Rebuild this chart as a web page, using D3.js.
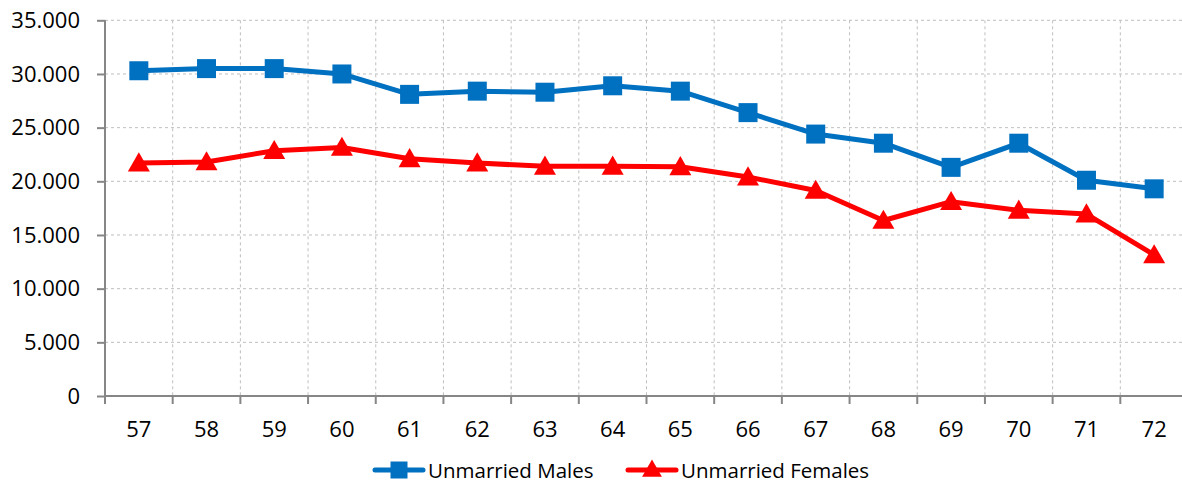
<!DOCTYPE html>
<html>
<head>
<meta charset="utf-8">
<script src="https://cdn.jsdelivr.net/npm/d3@7"></script>
<style>
  html, body { margin: 0; padding: 0; background: #fff; }
  svg { display: block; }
  text { font-family: "Open Sans", sans-serif; fill: #000; }
</style>
</head>
<body>
<svg id="chart" width="1182" height="484"></svg>
<script>
const years = ["57", "58", "59", "60", "61", "62", "63", "64", "65", "66", "67", "68", "69", "70", "71", "72"];
const males = [30300, 30500, 30500, 30000, 28100, 28400, 28300, 28900, 28400, 26400, 24400, 23550, 21300, 23550, 20100, 19300];
const females = [21700, 21800, 22850, 23150, 22100, 21700, 21400, 21400, 21350, 20400, 19150, 16350, 18100, 17300, 16950, 13150];
const yTicks = [0, 5000, 10000, 15000, 20000, 25000, 30000, 35000];
const seriesNames = ["Unmarried Males", "Unmarried Females"];
const seriesColors = ["#0070C0", "#FF0000"];

const svg = d3.select("#chart");
const plotLeft = 105, plotRight = 1188, plotTop = 20.3, plotBottom = 396;

const x = d3.scaleBand().domain(years).range([plotLeft, plotRight]).padding(0);
const y = d3.scaleLinear().domain([0, 35000]).range([plotBottom, plotTop]);

const fmt = d3.formatLocale({ decimal: ",", thousands: ".", grouping: [3], currency: ["", ""] }).format(",d");

// grid
const grid = svg.append("g").attr("stroke", "#bfbfbf").attr("stroke-width", 1).attr("stroke-dasharray", "3,3");
grid.selectAll(".hg")
    .data(yTicks.filter(d => d > 0))
    .join("line")
    .attr("x1", plotLeft).attr("x2", plotRight)
    .attr("y1", d => y(d)).attr("y2", d => y(d));
grid.selectAll(".vg")
    .data(years.slice(1))
    .join("line")
    .attr("x1", d => x(d)).attr("x2", d => x(d))
    .attr("y1", plotTop).attr("y2", plotBottom);

// y axis
const yAxis = svg.append("g")
    .attr("transform", `translate(${plotLeft},0)`)
    .call(d3.axisLeft(y).tickValues(yTicks).tickFormat(fmt).tickSize(8).tickPadding(17));
yAxis.select(".domain").attr("stroke", "#868686").attr("stroke-width", 2).attr("d", `M0,${plotTop}V${plotBottom}`);
yAxis.selectAll(".tick line").attr("stroke", "#868686").attr("stroke-width", 2);
yAxis.selectAll(".tick text").attr("font-size", 22).attr("font-family", "Open Sans").attr("fill", "#000");

// x axis
const xAxis = svg.append("g").attr("transform", `translate(0,${plotBottom})`);
xAxis.append("line")
    .attr("x1", plotLeft).attr("x2", plotRight)
    .attr("stroke", "#868686").attr("stroke-width", 2);
xAxis.selectAll(".xt")
    .data(years)
    .join("line")
    .attr("x1", d => x(d)).attr("x2", d => x(d))
    .attr("y1", 0).attr("y2", 8)
    .attr("stroke", "#868686").attr("stroke-width", 2);
xAxis.selectAll(".xl")
    .data(years)
    .join("text")
    .attr("x", d => x(d) + x.bandwidth() / 2)
    .attr("y", 40.5)
    .attr("text-anchor", "middle")
    .attr("font-size", 22)
    .text(d => d);

const cx = d => x(d) + x.bandwidth() / 2;
const line = d3.line().x(d => cx(d[0])).y(d => y(d[1]));

const square = d3.symbol().type(d3.symbolSquare).size(19 * 19);
const triangle = d3.symbol().type(d3.symbolTriangle).size(210);

const seriesData = [males, females];
const shapes = [square, triangle];

seriesData.forEach((vals, i) => {
    const pts = years.map((yr, j) => [yr, vals[j]]);
    svg.append("path")
        .datum(pts)
        .attr("d", line)
        .attr("fill", "none")
        .attr("stroke", seriesColors[i])
        .attr("stroke-width", 5)
        .attr("stroke-linejoin", "round");
    svg.selectAll(".m" + i)
        .data(pts)
        .join("path")
        .attr("transform", d => `translate(${cx(d[0])},${y(d[1]) + (i === 1 ? 2 : 0)})`)
        .attr("d", shapes[i])
        .attr("fill", seriesColors[i]);
});

// legend
const legendItems = [
    { x: 375, textX: 428 },
    { x: 628, textX: 681 }
];
const legend = svg.append("g").attr("transform", "translate(0,470)");
seriesNames.forEach((name, i) => {
    const g = legend.append("g");
    g.append("line")
        .attr("x1", legendItems[i].x).attr("x2", legendItems[i].x + 48)
        .attr("stroke", seriesColors[i]).attr("stroke-width", 5).attr("stroke-linecap", "round");
    g.append("path")
        .attr("transform", `translate(${legendItems[i].x + 24},${i === 1 ? 1 : 0})`)
        .attr("d", i === 0 ? d3.symbol().type(d3.symbolSquare).size(17 * 17)() : d3.symbol().type(d3.symbolTriangle).size(170)())
        .attr("fill", seriesColors[i]);
    g.append("text")
        .attr("x", legendItems[i].textX)
        .attr("y", 7.5)
        .attr("font-size", 20.5)
        .text(name);
});
</script>
</body>
</html>
